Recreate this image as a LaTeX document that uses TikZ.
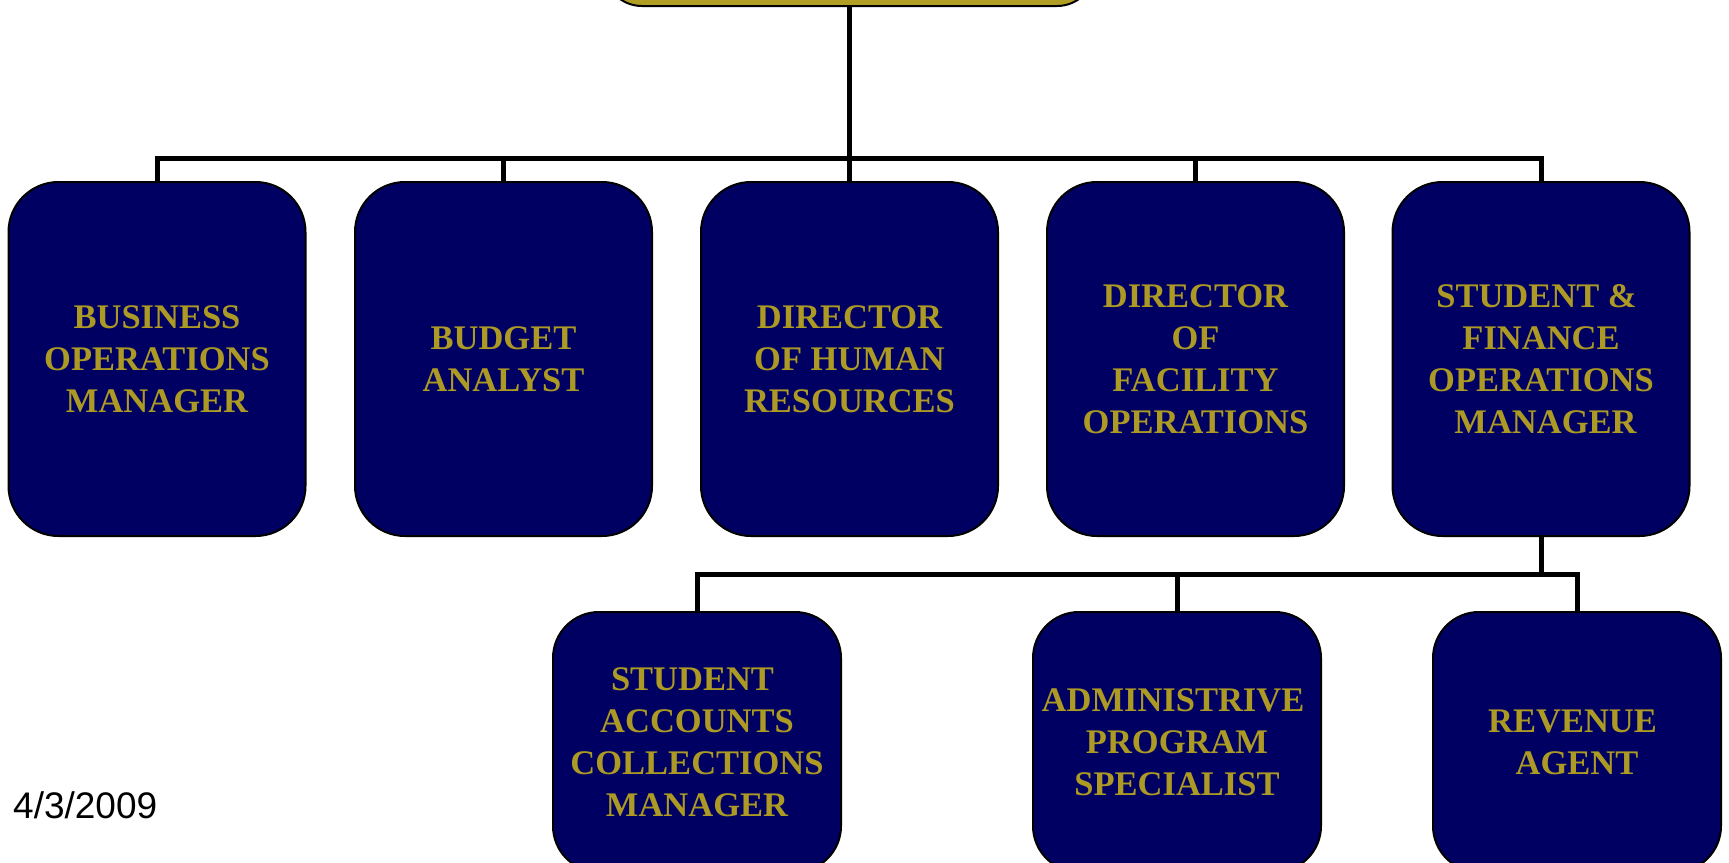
\documentclass[tikz,border=0pt]{standalone}
\usepackage{fontspec}
\setmainfont{Liberation Serif}
\newfontfamily\datefont{Liberation Sans}
\definecolor{navy}{RGB}{0,0,98}
\definecolor{goldtxt}{RGB}{172,154,36}
\definecolor{goldfill}{RGB}{178,158,36}
\begin{document}
\begin{tikzpicture}[x=1pt,y=-1pt,
  box/.style={draw=black, line width=2pt, fill=navy, rounded corners=50pt,
    text=goldtxt, align=center, inner sep=0pt,
    font=\fontsize{34.5}{42}\selectfont\bfseries},
  topbox/.style={box, minimum width=297pt, minimum height=354pt},
  lowbox/.style={box, rounded corners=46pt, minimum width=288pt, minimum height=260pt},
  conn/.style={draw=black, line width=5pt}]
\useasboundingbox (0,0) rectangle (1729,862);
\fill[white] (0,0) rectangle (1729,862);
% top (cut off) box
\node[draw=black, line width=2pt, fill=goldfill, rounded corners=38pt,
  minimum width=491pt, minimum height=80pt, inner sep=0pt] (top) at (849.5,-34) {};
% first row
\node[topbox] (b1) at (157,359) {BUSINESS\\OPERATIONS\\MANAGER};
\node[topbox] (b2) at (503.5,359) {BUDGET\\ANALYST};
\node[topbox] (b3) at (849.5,359) {DIRECTOR\\OF HUMAN\\RESOURCES};
\node[topbox] (b4) at (1195.5,359) {DIRECTOR\\OF\\FACILITY\\OPERATIONS};
\node[topbox] (b5) at (1541,359) {STUDENT \&\hspace*{9pt}\\FINANCE\hspace*{9pt}\\OPERATIONS\\\hspace*{9pt}MANAGER};
% second row
\node[lowbox] (b6) at (697,742) {STUDENT\hspace*{9pt}\\ACCOUNTS\\COLLECTIONS\\MANAGER};
\node[lowbox] (b7) at (1177,742) {ADMINISTRIVE\hspace*{8pt}\\PROGRAM\hspace*{8pt}\\SPECIALIST};
\node[lowbox] (b8) at (1577,742) {REVENUE\hspace*{9pt}\\AGENT};
% date
\node[anchor=base west, inner sep=0pt, font=\datefont\fontsize{37}{42}\selectfont] (date) at (13,818) {4/3/2009};
% connectors
\coordinate (busA) at (849.5,158);
\coordinate (busB) at (1541,574);
\draw[conn] (top.south) -- (b3.north);
\draw[conn] (b1.north) |- (busA) -| (b5.north);
\draw[conn] (b2.north) -- (b2.north |- busA);
\draw[conn] (b4.north) -- (b4.north |- busA);
\draw[conn] (b5.south) -- (busB);
\draw[conn] (b6.north) |- (busB) -| (b8.north);
\draw[conn] (b7.north) -- (b7.north |- busB);
\end{tikzpicture}
\end{document}
